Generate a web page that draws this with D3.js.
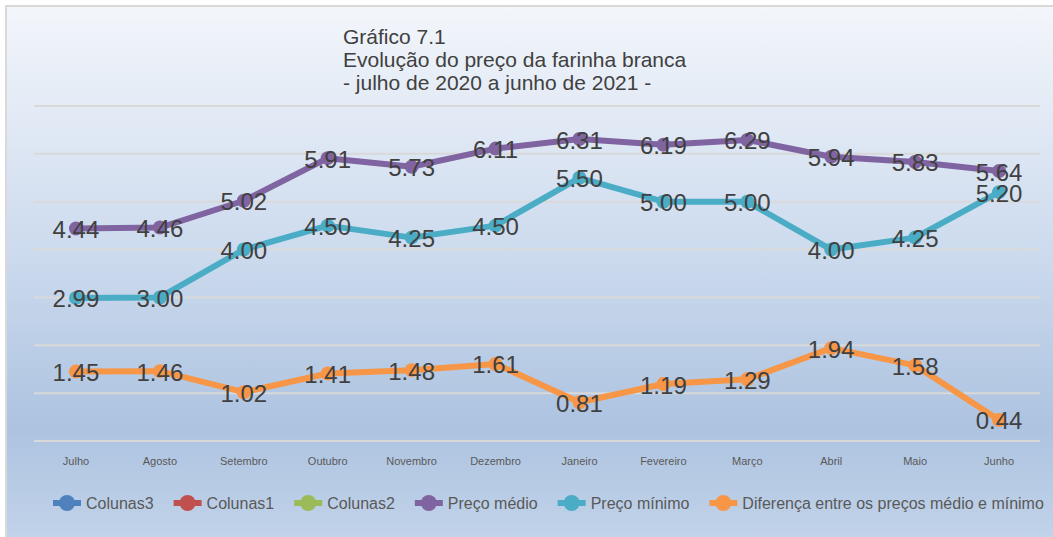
<!DOCTYPE html>
<html>
<head>
<meta charset="utf-8">
<script src="https://cdn.jsdelivr.net/npm/d3@7"></script>
<style>
  html, body { margin: 0; padding: 0; background: #ffffff; }
  svg { display: block; font-family: "Liberation Sans", Arial, sans-serif; }
</style>
</head>
<body>
<svg id="chart" width="1053" height="537"></svg>
<script>
// months (x categories)
const months = ["Julho", "Agosto", "Setembro", "Outubro", "Novembro", "Dezembro",
    "Janeiro", "Fevereiro", "Março", "Abril", "Maio", "Junho"];

// series values
const precoMedio = [4.44, 4.46, 5.02, 5.91, 5.73, 6.11, 6.31, 6.19, 6.29, 5.94, 5.83, 5.64];
const precoMinimo = [2.99, 3.00, 4.00, 4.50, 4.25, 4.50, 5.50, 5.00, 5.00, 4.00, 4.25, 5.20];
const diferenca = [1.45, 1.46, 1.02, 1.41, 1.48, 1.61, 0.81, 1.19, 1.29, 1.94, 1.58, 0.44];

// y gridline values
const yTicks = [0, 1, 2, 3, 4, 5, 6, 7];

const titleLines = ["Gráfico 7.1", "Evolução do preço da farinha branca", "- julho de 2020 a junho de 2021 -"];

// series shown in the legend (the three "Colunas" have no data)
const legendItems = [
    { name: "Colunas3", color: "#4f81bd", values: [] },
    { name: "Colunas1", color: "#c0504d", values: [] },
    { name: "Colunas2", color: "#9bbb59", values: [] },
    { name: "Preço médio", color: "#8064a2", values: precoMedio },
    { name: "Preço mínimo", color: "#4bacc6", values: precoMinimo },
    { name: "Diferença entre os preços médio e mínimo", color: "#f79646", values: diferenca }
];

const svg = d3.select("#chart");

// background gradient
const defs = svg.append("defs");
const grad = defs.append("linearGradient")
    .attr("id", "bg")
    .attr("x1", 0).attr("y1", 0).attr("x2", 0).attr("y2", 1);
grad.append("stop").attr("offset", "0%").attr("stop-color", "#f3f6fb");
grad.append("stop").attr("offset", "45%").attr("stop-color", "#cddbee");
grad.append("stop").attr("offset", "78%").attr("stop-color", "#adc3e0");
grad.append("stop").attr("offset", "100%").attr("stop-color", "#c3d4ea");

svg.append("rect")
    .attr("x", 6).attr("y", 6)
    .attr("width", 1060).attr("height", 540)
    .attr("fill", "url(#bg)")
    .attr("stroke", "#d9d9d9")
    .attr("stroke-width", 2);

// title
svg.append("g")
    .selectAll("text")
    .data(titleLines)
    .join("text")
    .attr("x", 343)
    .attr("y", (d, i) => 44 + i * 23)
    .attr("fill", "#404040")
    .attr("font-size", "21px")
    .text(d => d);

// scales
const x = d3.scaleBand()
    .domain(months)
    .range([34, 1041]);

const y = d3.scaleLinear()
    .domain([0, 7])
    .range([441, 106]);

// gridlines
svg.append("g")
    .selectAll("line")
    .data(yTicks)
    .join("line")
    .attr("x1", 34)
    .attr("x2", 1040)
    .attr("y1", d => y(d))
    .attr("y2", d => y(d))
    .attr("stroke", "#d9d9d9")
    .attr("stroke-width", 2);

// x axis labels
const xAxis = svg.append("g")
    .attr("transform", "translate(0,457)")
    .call(d3.axisBottom(x).tickSize(0).tickPadding(0));
xAxis.select(".domain").remove();
xAxis.selectAll("text")
    .attr("fill", "#595959")
    .attr("font-size", "11px")
    .attr("font-family", "Liberation Sans, Arial, sans-serif")
    .attr("dy", "0.71em");

// lines
const line = d3.line()
    .x((d, i) => x(months[i]) + x.bandwidth() / 2)
    .y(d => y(d));

const seriesWithData = legendItems.filter(s => s.values.length);

seriesWithData.forEach(s => {
    const g = svg.append("g");
    g.append("path")
        .datum(s.values)
        .attr("d", line)
        .attr("fill", "none")
        .attr("stroke", s.color)
        .attr("stroke-width", 6)
        .attr("stroke-linejoin", "round");
    g.selectAll("circle")
        .data(s.values)
        .join("circle")
        .attr("cx", (d, i) => x(months[i]) + x.bandwidth() / 2)
        .attr("cy", d => y(d))
        .attr("r", 7)
        .attr("fill", s.color);
});

// data labels on top
seriesWithData.forEach(s => {
    svg.append("g")
        .selectAll("text")
        .data(s.values)
        .join("text")
        .attr("x", (d, i) => x(months[i]) + x.bandwidth() / 2)
        .attr("y", d => y(d) + 1)
        .attr("text-anchor", "middle")
        .attr("dominant-baseline", "central")
        .attr("fill", "#404040")
        .attr("font-size", "24px")
        .text(d => d.toFixed(2));
});

// legend
const legend = svg.append("g").attr("transform", "translate(0,503)");
let lx = 53;
legendItems.forEach(item => {
    const g = legend.append("g").attr("transform", `translate(${lx},0)`);
    g.append("line")
        .attr("x1", 0).attr("x2", 28)
        .attr("stroke", item.color)
        .attr("stroke-width", 6);
    g.append("circle")
        .attr("cx", 14)
        .attr("r", 8)
        .attr("fill", item.color);
    const t = g.append("text")
        .attr("x", 33)
        .attr("dominant-baseline", "central")
        .attr("fill", "#595959")
        .attr("font-size", "16px")
        .text(item.name);
    lx += 33 + t.node().getComputedTextLength() + 20;
});
</script>
</body>
</html>
